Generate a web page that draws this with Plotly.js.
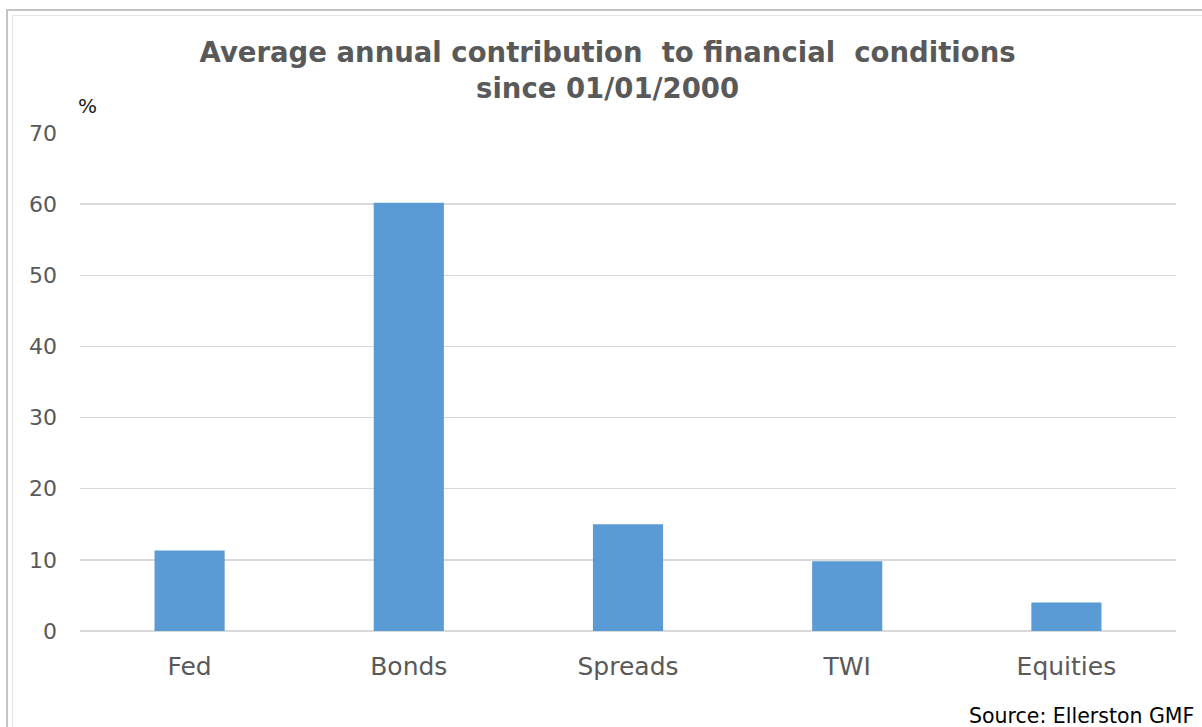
<!DOCTYPE html>
<html>
<head>
<meta charset="utf-8">
<script src="https://cdn.plot.ly/plotly-3.0.1.min.js"></script>
<style>
  html, body { margin: 0; padding: 0; background: #ffffff; width: 1202px; height: 727px; overflow: hidden; }
  #chart { position: absolute; left: 0; top: 0; width: 1202px; height: 727px; }
  #frame1 { position: absolute; left: 6px; top: 9px; width: 1300px; height: 800px; border-left: 2px solid #c4c4c4; border-top: 2px solid #c4c4c4; pointer-events: none; }
  #frame2 { position: absolute; left: 12px; top: 15px; width: 1300px; height: 800px; border-left: 1px solid #e4e4e4; border-top: 1px solid #e4e4e4; pointer-events: none; }
</style>
</head>
<body>
<div id="chart"></div>
<div id="frame1"></div>
<div id="frame2"></div>
<script>
const categories = ["Fed", "Bonds", "Spreads", "TWI", "Equities"];
const contribution = [11.3, 60.2, 15.0, 9.8, 4.0];
const yTicks = [0, 10, 20, 30, 40, 50, 60, 70];

const trace = {
  type: "bar",
  x: categories,
  y: contribution,
  marker: { color: "#5b9bd5", line: { width: 0 } },
  hoverinfo: "x+y"
};

const layout = {
  width: 1202,
  height: 727,
  paper_bgcolor: "#ffffff",
  plot_bgcolor: "#ffffff",
  margin: { l: 80, r: 26, t: 133, b: 96 },
  bargap: 0.68,
  showlegend: false,
  title: {
    text: "Average annual contribution  to financial  conditions<br>since 01/01/2000",
    font: { family: "DejaVu Sans, Verdana, sans-serif", size: 27.5, color: "#595959", weight: "bold" },
    x: 0.5055, xanchor: "center",
    y: 0.915, yanchor: "top"
  },
  xaxis: {
    type: "category",
    tickfont: { family: "DejaVu Sans, Verdana, sans-serif", size: 25, color: "#595959" },
    showgrid: false,
    showline: false,
    ticks: "",
    ticklabelstandoff: 18
  },
  yaxis: {
    range: [0, 70],
    tickvals: yTicks,
    tickfont: { family: "DejaVu Sans, Verdana, sans-serif", size: 22, color: "#595959" },
    showgrid: true,
    gridcolor: "#d9d9d9",
    gridwidth: 1.5,
    zeroline: true,
    zerolinecolor: "#d9d9d9",
    zerolinewidth: 1.5,
    showline: false,
    ticks: "",
    ticklabelstandoff: 22,
    fixedrange: true
  },
  annotations: [
    {
      text: "%",
      xref: "paper", yref: "paper",
      x: 0, y: 1, xshift: 7, yshift: 27,
      xanchor: "center", yanchor: "middle",
      showarrow: false,
      font: { family: "DejaVu Sans, Verdana, sans-serif", size: 20, color: "#1a1a1a" }
    },
    {
      text: "Source: Ellerston GMF",
      xref: "paper", yref: "paper",
      x: 1, y: 0, xshift: 20, yshift: -85,
      xanchor: "right", yanchor: "middle",
      showarrow: false,
      font: { family: "DejaVu Sans, Verdana, sans-serif", size: 20.5, color: "#000000" }
    }
  ]
};

Plotly.newPlot("chart", [trace], layout, { displayModeBar: false, staticPlot: true });
</script>
</body>
</html>
